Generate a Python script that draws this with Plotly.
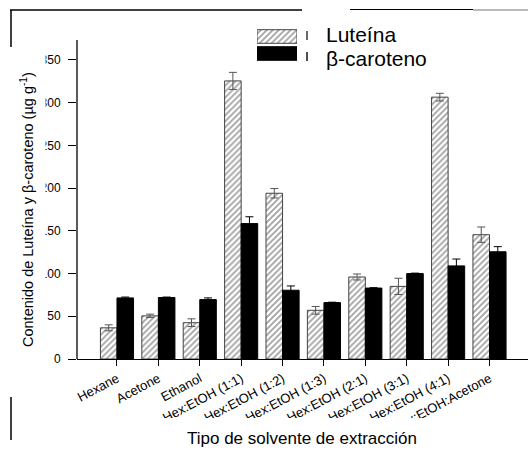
import plotly.graph_objects as go

# Extraction solvents and measured pigment contents (µg g-1)
solvents = ["Hexane", "Acetone", "Ethanol", "Hex:EtOH (1:1)", "Hex:EtOH (1:2)",
            "Hex:EtOH (1:3)", "Hex:EtOH (2:1)", "Hex:EtOH (3:1)", "Hex:EtOH (4:1)",
            "Hex:EtOH:Acetone"]
luteina = [36.5, 50.5, 42.5, 325.5, 194.0, 57.0, 96.0, 85.0, 306.5, 145.5]
luteina_err = [3.5, 2.0, 4.5, 10.0, 5.5, 4.5, 3.5, 9.5, 4.5, 9.0]
caroteno = [71.5, 72.0, 69.5, 158.5, 80.5, 66.0, 83.0, 100.0, 109.0, 125.5]
caroteno_err = [1.0, 0.5, 2.0, 8.0, 5.0, 0.5, 0.5, 0.5, 8.0, 6.0]
y_ticks = [0, 50, 100, 150, 200, 250, 300, 350]

# Canvas geometry (pixels)
W, H = 528, 451
ML, MR, MT, MB = 77, 0, 20, 92
PW, PH = W - ML - MR, H - MT - MB


def px_x(x):
    return (x - ML) / PW


def px_y(y):
    return (H - MB - y) / PH


FONT = "Liberation Sans, Arial, sans-serif"
hatch = dict(shape="/", fgcolor="#444444", bgcolor="white", size=4.2, solidity=0.42)

fig = go.Figure()
fig.add_trace(go.Bar(
    x=solvents, y=luteina, name="Luteína",
    marker=dict(color="white", pattern=hatch, line=dict(color="#444444", width=1)),
    error_y=dict(type="data", array=luteina_err, color="#555555", thickness=1, width=4),
    showlegend=False,
))
fig.add_trace(go.Bar(
    x=solvents, y=caroteno, name="β-caroteno",
    marker=dict(color="black", line=dict(color="black", width=1)),
    error_y=dict(type="data", array=caroteno_err, color="black", thickness=1, width=4),
    showlegend=False,
))

# Legend swatches drawn as bars on a small hidden axis pair
legend_names = ["Luteína", "β-caroteno"]
fig.add_trace(go.Bar(
    x=[1], y=[1.5], orientation="h", width=0.8, offset=-0.4, xaxis="x2", yaxis="y2",
    marker=dict(color="white", pattern=hatch, line=dict(color="#444444", width=1)),
    showlegend=False, hoverinfo="skip",
))
fig.add_trace(go.Bar(
    x=[1], y=[0.5], orientation="h", width=0.8, offset=-0.4, xaxis="x2", yaxis="y2",
    marker=dict(color="black", line=dict(color="black", width=1)),
    showlegend=False, hoverinfo="skip",
))

fig.update_layout(
    width=W, height=H,
    margin=dict(l=ML, r=MR, t=MT, b=MB, pad=0),
    paper_bgcolor="white", plot_bgcolor="white",
    barmode="group", bargap=0.2, bargroupgap=0,
    font=dict(family=FONT, color="black"),
    xaxis=dict(
        range=[-0.966, 9.93], showline=True, linecolor="black", linewidth=1.3,
        ticks="outside", ticklen=6, tickwidth=1.2, tickcolor="black",
        tickangle=-28, tickfont=dict(size=13, family=FONT), showgrid=False, zeroline=False,
    ),
    yaxis=dict(
        range=[0, 396.8], showline=False, ticks="outside", ticklen=8, tickwidth=1.2,
        tickcolor="black", tickvals=y_ticks, tickfont=dict(size=12, family=FONT),
        ticklabelstandoff=5, showgrid=False, zeroline=False,
    ),
    xaxis2=dict(domain=[px_x(257), px_x(297)], range=[0, 1], visible=False, fixedrange=True),
    yaxis2=dict(domain=[px_y(62), px_y(28)], range=[0, 2], visible=False, fixedrange=True),
)

shapes = [
    # y-axis line
    dict(type="line", xref="paper", yref="y", x0=0, x1=0, y0=0, y1=373.4,
         line=dict(color="black", width=1.3)),
    # masks trimming the tick labels at the figure's crop edges
    dict(type="rect", xref="paper", yref="paper", x0=px_x(0), x1=px_x(45.5),
         y0=px_y(380), y1=px_y(30), fillcolor="white", line=dict(width=0), layer="above"),
    dict(type="rect", xref="paper", yref="paper", x0=px_x(0), x1=px_x(W),
         y0=px_y(H), y1=px_y(418), fillcolor="white", line=dict(width=0), layer="above"),
    # outer frame fragments
    dict(type="line", xref="paper", yref="paper", x0=px_x(11), x1=px_x(11),
         y0=px_y(47), y1=px_y(10), line=dict(color="black", width=1.5)),
    dict(type="line", xref="paper", yref="paper", x0=px_x(10), x1=px_x(302),
         y0=px_y(10), y1=px_y(10), line=dict(color="black", width=1.5)),
    dict(type="line", xref="paper", yref="paper", x0=px_x(350), x1=px_x(473),
         y0=px_y(9.5), y1=px_y(9.5), line=dict(color="black", width=1.2)),
    dict(type="line", xref="paper", yref="paper", x0=px_x(473), x1=px_x(W),
         y0=px_y(10), y1=px_y(10), line=dict(color="#777777", width=1.2)),
    dict(type="line", xref="paper", yref="paper", x0=px_x(11), x1=px_x(11),
         y0=px_y(440), y1=px_y(397), line=dict(color="black", width=1.5)),
    # error-bar glyphs in the legend
    dict(type="line", xref="paper", yref="paper", x0=px_x(307), x1=px_x(307),
         y0=px_y(40), y1=px_y(31), line=dict(color="#444444", width=1.6)),
    dict(type="line", xref="paper", yref="paper", x0=px_x(307), x1=px_x(307),
         y0=px_y(61), y1=px_y(52), line=dict(color="#222222", width=1.6)),
]
fig.update_layout(shapes=shapes)

annotations = [
    dict(text=legend_names[0], xref="paper", yref="paper", x=px_x(324), y=px_y(35),
         xanchor="left", yanchor="middle", showarrow=False, font=dict(size=21, family=FONT)),
    dict(text=legend_names[1], xref="paper", yref="paper", x=px_x(324), y=px_y(58),
         xanchor="left", yanchor="middle", showarrow=False, font=dict(size=21, family=FONT)),
    dict(text="Tipo de solvente de extracción", xref="paper", yref="paper",
         x=px_x(302), y=px_y(438), xanchor="center", yanchor="middle", showarrow=False,
         font=dict(size=17, family=FONT)),
    dict(text="Contenido de Luteína y β-caroteno (µg g<sup>-1</sup>)", xref="paper",
         yref="paper", x=px_x(27), y=px_y(210), xanchor="center", yanchor="middle",
         textangle=-90, showarrow=False, font=dict(size=14.5, family=FONT)),
]
fig.update_layout(annotations=annotations)

fig.write_html("out.html")
